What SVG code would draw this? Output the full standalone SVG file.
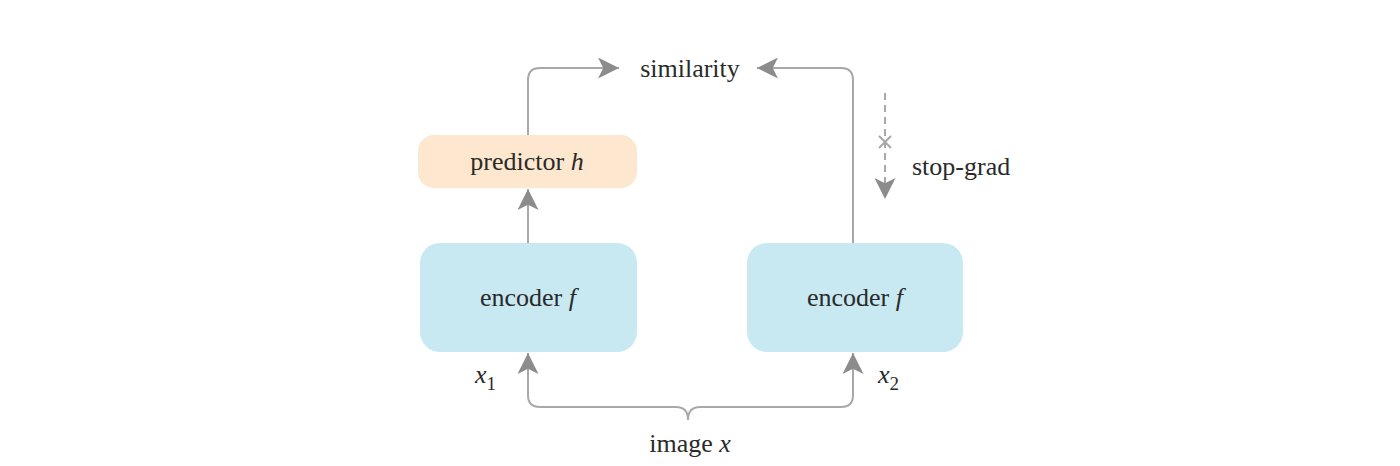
<svg xmlns="http://www.w3.org/2000/svg" width="1400" height="466" viewBox="0 0 1400 466">
<style>
text{font-family:"Liberation Serif","Times New Roman",serif;font-size:26px;fill:#2a2a2a}
.i{font-style:italic}
.c{fill:none;stroke:#a8a8a8;stroke-width:2}
</style>
<defs>
<marker id="ah" viewBox="0 0 20 20" refX="20" refY="10" markerWidth="21" markerHeight="21" markerUnits="userSpaceOnUse" orient="auto">
<path d="M0,0 L20,10 L0,20 L5,10 Z" fill="#8c8c8c"/>
</marker>
</defs>
<rect width="1400" height="466" fill="#fff"/>
<g id="connectors">
<path class="c" d="M528,135 V80 Q528,68 540,68 H619" marker-end="url(#ah)"/>
<path class="c" d="M853,243 V80 Q853,68 841,68 H757" marker-end="url(#ah)"/>
<path class="c" d="M528,243 V189" marker-end="url(#ah)"/>
<path class="c" d="M688,420 Q688,407 676,407 H540 Q528,407 528,395 V353" marker-end="url(#ah)"/>
<path class="c" d="M688,420 Q688,407 700,407 H841 Q853,407 853,395 V353" marker-end="url(#ah)"/>
<path class="c" d="M885,93 V199" stroke-dasharray="7,5" marker-end="url(#ah)"/>
<path class="c" d="M879,136 L891,148 M891,136 L879,148"/>
</g>
<g id="similarity"><text x="690" y="77" text-anchor="middle">similarity</text></g>
<g id="predictor">
<rect x="418" y="135" width="219" height="53" rx="16" fill="#fde8cf"/>
<text x="527" y="170" text-anchor="middle">predictor <tspan class="i">h</tspan></text>
</g>
<g id="encoder1">
<rect x="420" y="243" width="217" height="109" rx="20" fill="#c8e9f2"/>
<text x="528" y="306" text-anchor="middle">encoder <tspan class="i">f</tspan></text>
</g>
<g id="encoder2">
<rect x="747" y="243" width="216" height="109" rx="20" fill="#c8e9f2"/>
<text x="855" y="306" text-anchor="middle">encoder <tspan class="i">f</tspan></text>
</g>
<g id="x1"><text x="475" y="383"><tspan class="i">x</tspan><tspan font-size="19" dy="7">1</tspan></text></g>
<g id="x2"><text x="878" y="383"><tspan class="i">x</tspan><tspan font-size="19" dy="7">2</tspan></text></g>
<g id="stopgrad"><text x="912" y="175">stop-grad</text></g>
<g id="image"><text x="690" y="452" text-anchor="middle">image <tspan class="i">x</tspan></text></g>
</svg>
